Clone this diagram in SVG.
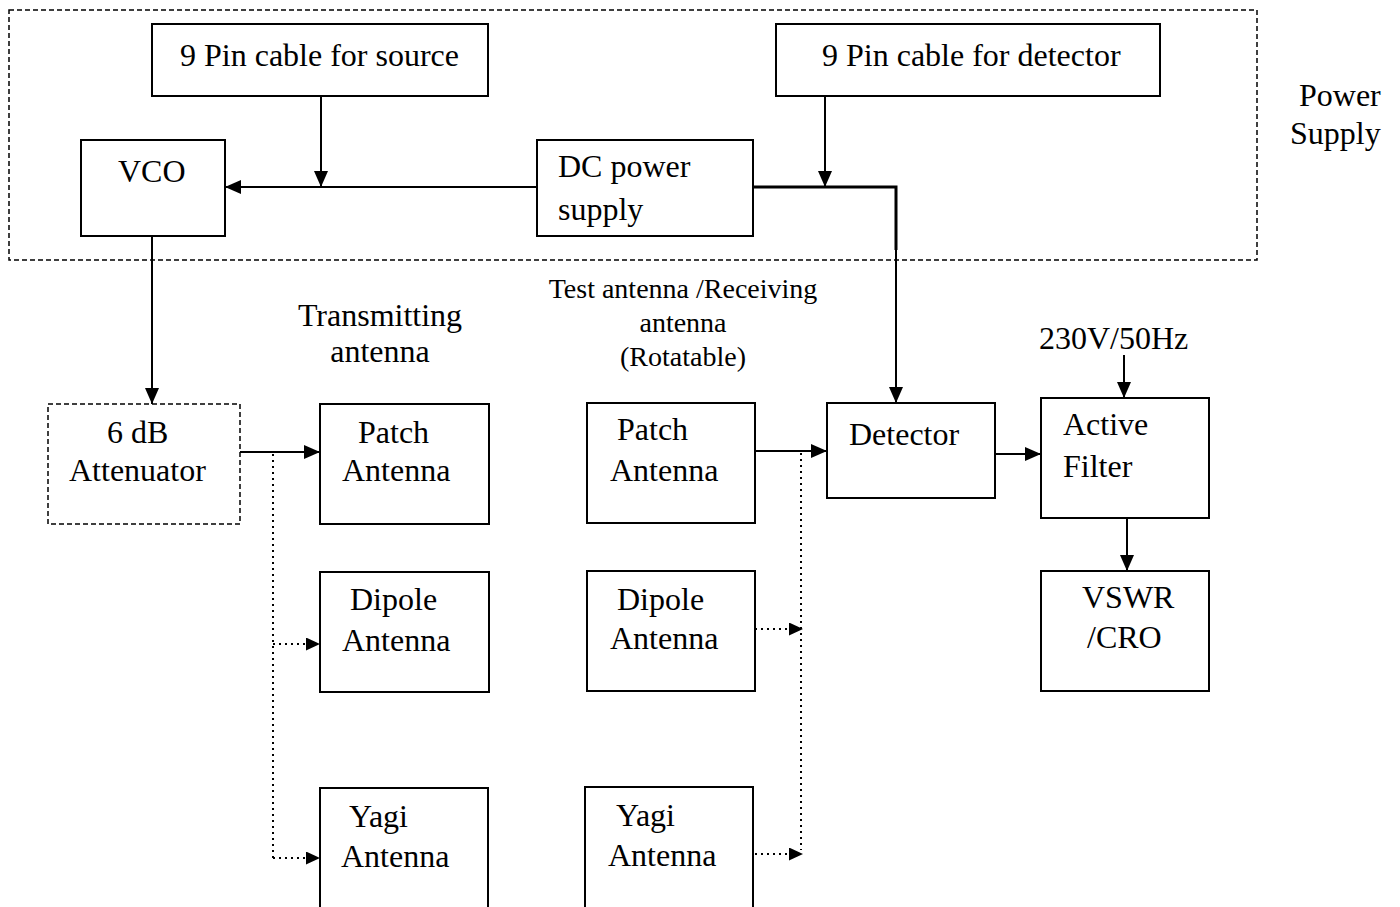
<svg xmlns="http://www.w3.org/2000/svg" width="1400" height="907" viewBox="0 0 1400 907" font-family="'Liberation Serif', 'Times New Roman', 'DejaVu Serif', serif">
<defs>
<style>
.box{fill:#fff;stroke:#000;stroke-width:2}
.dbox{fill:none;stroke:#000;stroke-width:1.5;stroke-dasharray:5,3}
.t{font-family:'Liberation Serif','Times New Roman','DejaVu Serif',serif;font-size:32px;fill:#000}
.ts{font-family:'Liberation Serif','Times New Roman','DejaVu Serif',serif;font-size:28px;fill:#000}
.ln{fill:none;stroke:#000;stroke-width:2}
.dot{fill:none;stroke:#000;stroke-width:2;stroke-dasharray:2,4}
</style>
<marker id="ah" markerUnits="userSpaceOnUse" markerWidth="16" markerHeight="14" refX="16" refY="7" orient="auto">
<path d="M0,0 L16,7 L0,14 z" fill="#000"/>
</marker>
<marker id="ahs" markerUnits="userSpaceOnUse" markerWidth="14" markerHeight="13" refX="14" refY="6.5" orient="auto">
<path d="M0,0 L14,6.5 L0,13 z" fill="#000"/>
</marker>
</defs>
<rect width="1400" height="907" fill="#fff"/>

<g id="power-supply-region">
<rect class="dbox" x="9" y="10" width="1248" height="250"/>
<text class="t" x="1299" y="106">Power</text>
<text class="t" x="1290" y="144">Supply</text>
</g>

<g id="labels">
<text class="t" x="380" y="326" text-anchor="middle">Transmitting</text>
<text class="t" x="380" y="362" text-anchor="middle">antenna</text>
<text class="ts" x="683" y="298" text-anchor="middle">Test antenna /Receiving</text>
<text class="ts" x="683" y="332" text-anchor="middle">antenna</text>
<text class="ts" x="683" y="366" text-anchor="middle">(Rotatable)</text>
<text class="t" x="1039" y="349">230V/50Hz</text>
</g>

<g id="connectors">
<line class="ln" x1="321" y1="96" x2="321" y2="187" marker-end="url(#ah)"/>
<line class="ln" x1="537" y1="187" x2="225" y2="187" marker-end="url(#ah)"/>
<line class="ln" x1="825" y1="96" x2="825" y2="187" marker-end="url(#ah)"/>
<polyline fill="none" stroke="#000" stroke-width="3" points="753,187 896,187 896,250"/>
<line class="ln" x1="896" y1="250" x2="896" y2="403" marker-end="url(#ah)"/>
<line class="ln" x1="152" y1="236" x2="152" y2="404" marker-end="url(#ah)"/>
<line class="ln" x1="240" y1="452" x2="320" y2="452" marker-end="url(#ah)"/>
<line class="dot" x1="273" y1="454" x2="273" y2="858"/>
<line class="dot" x1="273" y1="644" x2="320" y2="644" marker-end="url(#ahs)"/>
<line class="dot" x1="273" y1="858" x2="320" y2="858" marker-end="url(#ahs)"/>
<line class="ln" x1="755" y1="451" x2="827" y2="451" marker-end="url(#ah)"/>
<line class="dot" x1="801" y1="453" x2="801" y2="850"/>
<line class="dot" x1="755" y1="629" x2="803" y2="629" marker-end="url(#ahs)"/>
<line class="dot" x1="755" y1="854" x2="803" y2="854" marker-end="url(#ahs)"/>
<line class="ln" x1="995" y1="454" x2="1041" y2="454" marker-end="url(#ah)"/>
<line class="ln" x1="1124" y1="355" x2="1124" y2="398" marker-end="url(#ah)"/>
<line class="ln" x1="1127" y1="518" x2="1127" y2="571" marker-end="url(#ah)"/>
</g>

<g id="src-cable">
<rect class="box" x="152" y="24" width="336" height="72"/>
<text class="t" x="180" y="66">9 Pin cable for source</text>
</g>
<g id="det-cable">
<rect class="box" x="776" y="24" width="384" height="72"/>
<text class="t" x="822" y="66">9 Pin cable for detector</text>
</g>
<g id="vco">
<rect class="box" x="81" y="140" width="144" height="96"/>
<text class="t" x="118" y="182">VCO</text>
</g>
<g id="dc-supply">
<rect class="box" x="537" y="140" width="216" height="96"/>
<text class="t" x="558" y="177">DC power</text>
<text class="t" x="558" y="220">supply</text>
</g>
<g id="attenuator">
<rect class="dbox" x="48" y="404" width="192" height="120"/>
<text class="t" x="107" y="443">6 dB</text>
<text class="t" x="69" y="481">Attenuator</text>
</g>
<g id="tx-patch">
<rect class="box" x="320" y="404" width="169" height="120"/>
<text class="t" x="358" y="443">Patch</text>
<text class="t" x="342" y="481">Antenna</text>
</g>
<g id="tx-dipole">
<rect class="box" x="320" y="572" width="169" height="120"/>
<text class="t" x="350" y="610">Dipole</text>
<text class="t" x="342" y="651">Antenna</text>
</g>
<g id="tx-yagi">
<rect class="box" x="320" y="788" width="168" height="130"/>
<text class="t" x="349" y="827">Yagi</text>
<text class="t" x="341" y="867">Antenna</text>
</g>
<g id="rx-patch">
<rect class="box" x="587" y="403" width="168" height="120"/>
<text class="t" x="617" y="440">Patch</text>
<text class="t" x="610" y="481">Antenna</text>
</g>
<g id="rx-dipole">
<rect class="box" x="587" y="571" width="168" height="120"/>
<text class="t" x="617" y="610">Dipole</text>
<text class="t" x="610" y="649">Antenna</text>
</g>
<g id="rx-yagi">
<rect class="box" x="585" y="787" width="168" height="130"/>
<text class="t" x="616" y="826">Yagi</text>
<text class="t" x="608" y="866">Antenna</text>
</g>
<g id="detector">
<rect class="box" x="827" y="403" width="168" height="95"/>
<text class="t" x="849" y="445">Detector</text>
</g>
<g id="active-filter">
<rect class="box" x="1041" y="398" width="168" height="120"/>
<text class="t" x="1063" y="435">Active</text>
<text class="t" x="1063" y="477">Filter</text>
</g>
<g id="vswr">
<rect class="box" x="1041" y="571" width="168" height="120"/>
<text class="t" x="1082" y="608">VSWR</text>
<text class="t" x="1087" y="648">/CRO</text>
</g>
</svg>
